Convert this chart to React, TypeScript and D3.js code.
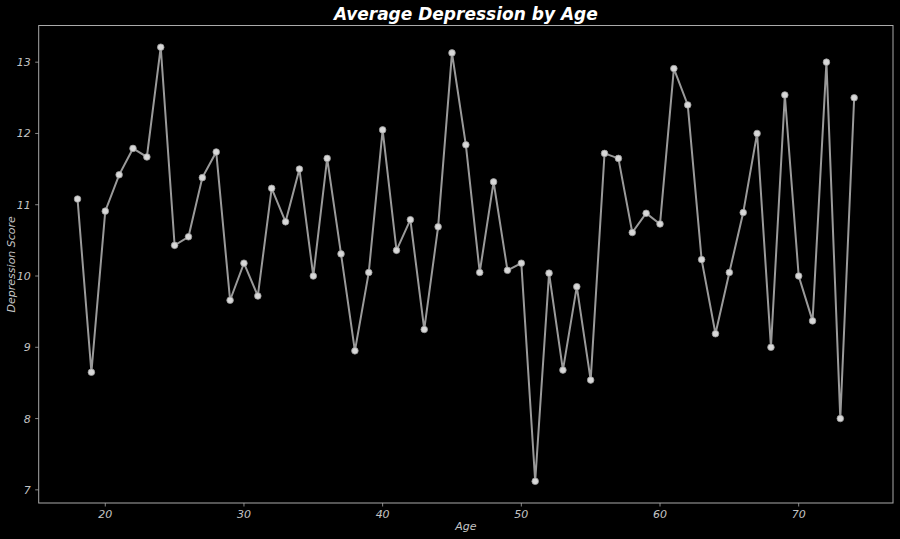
import React from "react";
import * as d3 from "d3";

const ages = [18,19,20,21,22,23,24,25,26,27,28,29,30,31,32,33,34,35,36,37,38,39,40,41,42,43,44,45,46,47,48,49,50,51,52,53,54,55,56,57,58,59,60,61,62,63,64,65,66,67,68,69,70,71,72,73,74];
const scores = [11.08,8.65,10.91,11.42,11.79,11.67,13.21,10.43,10.55,11.38,11.74,9.66,10.18,9.72,11.23,10.76,11.50,10.00,11.65,10.31,8.95,10.05,12.05,10.36,10.79,9.25,10.69,13.13,11.84,10.05,11.32,10.08,10.18,7.12,10.04,8.68,9.85,8.54,11.72,11.65,10.61,10.88,10.73,12.91,12.40,10.23,9.19,10.05,10.89,12.00,9.00,12.54,10.00,9.37,13.00,8.00,12.50];
const xTicks = [20,30,40,50,60,70];
const yTicks = [7,8,9,10,11,12,13];

const W = 900, H = 539;
const L = 38.7, R = 893, T = 25.5, B = 503;

export default function App() {
  const xmin = d3.min(ages)!, xmax = d3.max(ages)!;
  const ymin = d3.min(scores)!, ymax = d3.max(scores)!;
  const xp = (xmax - xmin) * 0.05, yp = (ymax - ymin) * 0.05;
  const x = d3.scaleLinear().domain([xmin - xp, xmax + xp]).range([L, R]);
  const y = d3.scaleLinear().domain([ymin - yp, ymax + yp]).range([B, T]);
  const pts: [number, number][] = ages.map((a, i) => [a, scores[i]]);
  const line = d3.line<[number, number]>().x(d => x(d[0])).y(d => y(d[1]));
  const font = "'DejaVu Sans', sans-serif";
  const tickColor = "#c4c4c4";
  const spine = "#aaaaaa";
  return (
    <svg width={W} height={H} style={{ position: "absolute", left: 0, top: 0, background: "#000" }}>
      <rect x={0} y={0} width={W} height={H} fill="#000" />
      <rect x={L} y={T} width={R - L} height={B - T} fill="none" stroke={spine} strokeWidth={1} />
      {xTicks.map(t => (
        <g key={"x" + t}>
          <line x1={x(t)} x2={x(t)} y1={B} y2={B + 3.5} stroke={spine} strokeWidth={0.8} />
          <text x={x(t)} y={B + 15} textAnchor="middle" fill={tickColor} fontSize={11} fontStyle="italic" fontFamily={font}>{t}</text>
        </g>
      ))}
      {yTicks.map(t => (
        <g key={"y" + t}>
          <line x1={L - 3.5} x2={L} y1={y(t)} y2={y(t)} stroke={spine} strokeWidth={0.8} />
          <text x={L - 8} y={y(t) + 4} textAnchor="end" fill={tickColor} fontSize={11} fontStyle="italic" fontFamily={font}>{t}</text>
        </g>
      ))}
      <text x={(L + R) / 2} y={530} textAnchor="middle" fill={tickColor} fontSize={11} fontStyle="italic" fontFamily={font}>Age</text>
      <text transform={`translate(15,${(T + B) / 2}) rotate(-90)`} textAnchor="middle" fill={tickColor} fontSize={11} fontStyle="italic" fontFamily={font}>Depression Score</text>
      <text x={(L + R) / 2} y={20} textAnchor="middle" fill="#ffffff" fontSize={17} fontWeight="bold" fontStyle="italic" fontFamily={font}>Average Depression by Age</text>
      <path d={line(pts) || ""} fill="none" stroke="#9a9a9a" strokeWidth={2} />
      {pts.map((p, i) => (
        <circle key={i} cx={x(p[0])} cy={y(p[1])} r={3.3} fill="#d8d8d8" stroke="#9a9a9a" strokeWidth={0.8} />
      ))}
    </svg>
  );
}
